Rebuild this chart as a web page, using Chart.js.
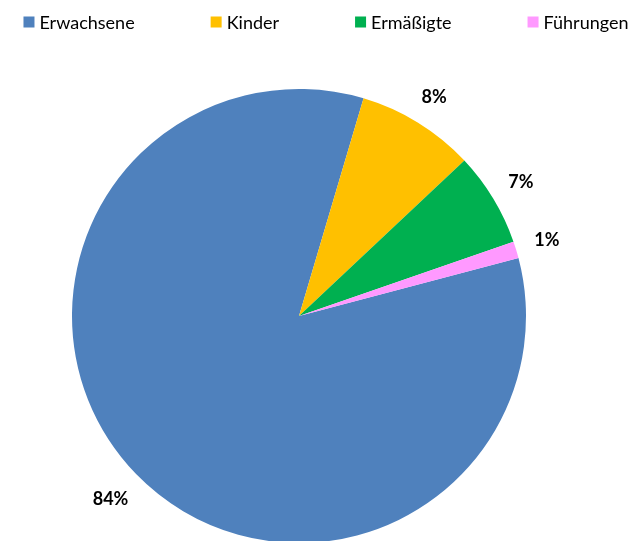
<!DOCTYPE html>
<html lang="de">
<head>
<meta charset="utf-8">
<title>Besucher nach Kategorie</title>
<script src="https://cdn.jsdelivr.net/npm/chart.js@4.4.1/dist/chart.umd.min.js"></script>
<style>
    html, body { margin: 0; padding: 0; background: #fff; }
    #wrap { width: 637px; height: 541px; }
</style>
</head>
<body>
<div id="wrap"><canvas id="pieChart" width="637" height="541"></canvas></div>
<script>
// Chart data
const categories = ['Erwachsene', 'Kinder', 'Ermäßigte', 'Führungen'];
const shares = [83.7, 8.4, 6.7, 1.2];
const colors = ['#4F81BD', '#FFC000', '#00B050', '#FF99FF'];

const FONT = 'Lato, "Open Sans", sans-serif';

/**
 * Draws the legend row at the top and the percentage labels outside the pie
 */
const excelStylePlugin = {
    id: 'excelStyle',
    afterDraw(chart) {
        const ctx = chart.ctx;
        const meta = chart.getDatasetMeta(0);
        const values = chart.data.datasets[0].data;
        const total = values.reduce((a, b) => a + b, 0);

        // percentage labels, "outside end"
        ctx.save();
        ctx.font = 'bold 18px ' + FONT;
        ctx.fillStyle = '#000';
        ctx.textAlign = 'center';
        ctx.textBaseline = 'middle';
        meta.data.forEach((arc, i) => {
            const p = arc.getProps(['x', 'y', 'startAngle', 'endAngle', 'outerRadius'], true);
            const mid = (p.startAngle + p.endAngle) / 2;
            const text = Math.round(values[i] / total * 100) + '%';
            const w = ctx.measureText(text).width;
            const h = 14;
            const dx = Math.cos(mid), dy = Math.sin(mid);
            const extent = Math.abs(dx) * w / 2 + Math.abs(dy) * h / 2;
            const r = p.outerRadius + 18 + extent;
            ctx.fillText(text, p.x + dx * r, p.y + dy * r);
        });
        ctx.restore();

        // legend
        ctx.save();
        ctx.font = '18px ' + FONT;
        ctx.textBaseline = 'middle';
        const box = 11, textGap = 5, itemGap = 76, cy = 22;
        const widths = categories.map(c => box + textGap + ctx.measureText(c).width);
        const totalWidth = widths.reduce((a, b) => a + b, 0) + itemGap * (categories.length - 1);
        let x = 326 - totalWidth / 2;
        categories.forEach((c, i) => {
            ctx.fillStyle = colors[i];
            ctx.fillRect(x, cy - box / 2, box, box);
            ctx.fillStyle = '#000';
            ctx.fillText(c, x + box + textGap, cy + 1);
            x += widths[i] + itemGap;
        });
        ctx.restore();
    }
};

function createPieChart(canvasId) {
    const canvas = document.getElementById(canvasId);
    const ctx = canvas.getContext('2d');

    return new Chart(ctx, {
        type: 'pie',
        data: {
            labels: categories,
            datasets: [{
                data: shares,
                backgroundColor: colors,
                borderWidth: 0,
                clip: false
            }]
        },
        options: {
            responsive: false,
            animation: false,
            rotation: 75.2,
            radius: 227,
            layout: {
                padding: { top: 91, bottom: 0, left: 0, right: 39 }
            },
            plugins: {
                legend: { display: false },
                title: { display: false },
                tooltip: { enabled: false }
            }
        },
        plugins: [excelStylePlugin]
    });
}

createPieChart('pieChart');
</script>
</body>
</html>
